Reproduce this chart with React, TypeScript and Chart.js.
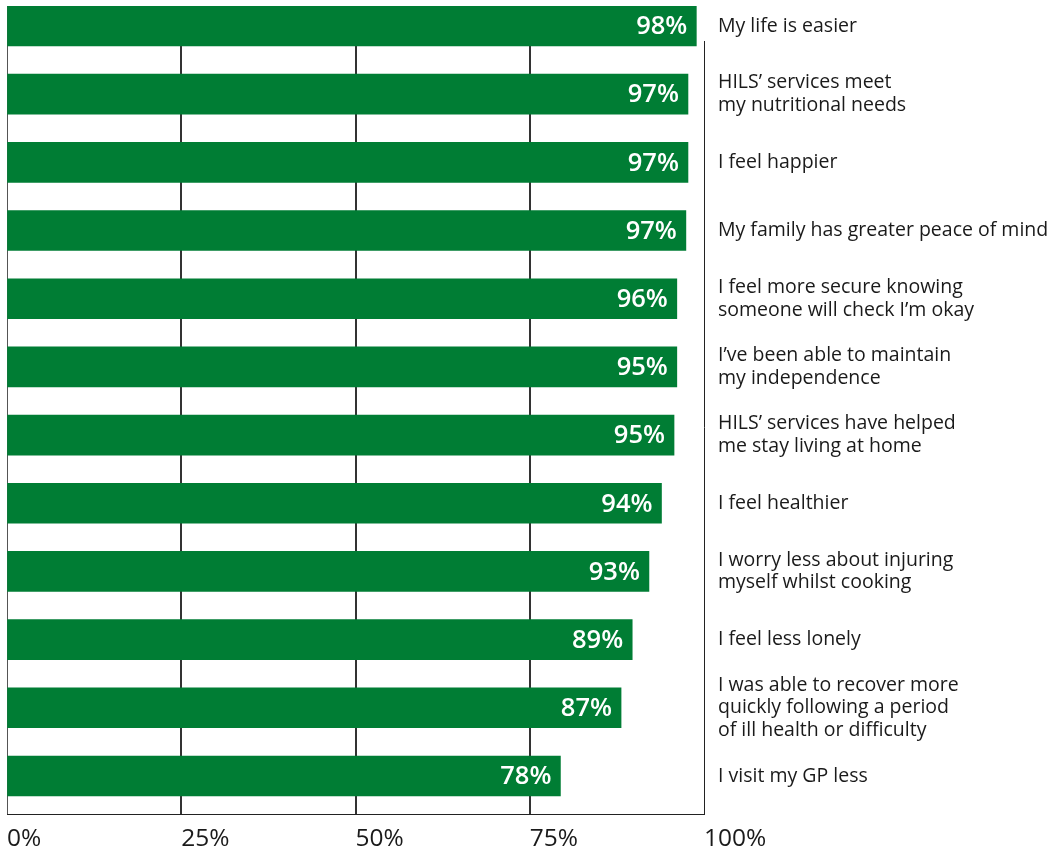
import React, { useEffect, useRef } from 'react';
import { Chart, registerables } from 'chart.js';

Chart.register(...registerables);

const categories: (string | string[])[] = [
  'My life is easier',
  ['HILS’ services meet', 'my nutritional needs'],
  'I feel happier',
  'My family has greater peace of mind',
  ['I feel more secure knowing', 'someone will check I’m okay'],
  ['I’ve been able to maintain', 'my independence'],
  ['HILS’ services have helped', 'me stay living at home'],
  'I feel healthier',
  ['I worry less about injuring', 'myself whilst cooking'],
  'I feel less lonely',
  ['I was able to recover more', 'quickly following a period', 'of ill health or difficulty'],
  'I visit my GP less',
];

// Percentages printed on the bars
const percentLabels = ['98%', '97%', '97%', '97%', '96%', '95%', '95%', '94%', '93%', '89%', '87%', '78%'];

// Bar lengths as drawn in the picture (percent of axis)
const barLengths = [98.9, 97.7, 97.7, 97.4, 96.1, 96.1, 95.7, 93.9, 92.1, 89.7, 88.1, 79.4];

const xTickValues = [0, 25, 50, 75, 100];

const GREEN = '#007d34';
const FONT = '"Open Sans", "Noto Sans", sans-serif';

const barLabelPlugin = {
  id: 'barLabels',
  afterDatasetsDraw(chart: any) {
    const { ctx } = chart;
    const meta = chart.getDatasetMeta(0);
    ctx.save();
    ctx.font = `600 25.5px ${FONT}`;
    ctx.fillStyle = '#ffffff';
    ctx.textAlign = 'right';
    ctx.textBaseline = 'middle';
    meta.data.forEach((bar: any, i: number) => {
      const { x, y } = bar.getProps(['x', 'y'], true);
      ctx.fillText(percentLabels[i], x - 9, y + 1);
    });
    ctx.restore();
  },
};

const rightFramePlugin = {
  id: 'rightFrame',
  beforeDatasetsDraw(chart: any) {
    const { ctx, chartArea, scales } = chart;
    const px = Math.round(scales.x.getPixelForValue(100)) + 0.5;
    ctx.save();
    ctx.strokeStyle = '#222222';
    ctx.lineWidth = 1;
    ctx.beginPath();
    ctx.moveTo(px, scales.y.getPixelForValue(0.22));
    ctx.lineTo(px, chartArea.bottom);
    ctx.stroke();
    ctx.restore();
  },
};

export default function App() {
  const canvasRef = useRef<HTMLCanvasElement | null>(null);

  useEffect(() => {
    if (!canvasRef.current) return;
    const chart = new Chart(canvasRef.current, {
      type: 'bar',
      data: {
        datasets: [
          {
            data: barLengths.map((v, i) => ({ x: v, y: i })),
            backgroundColor: GREEN,
            borderWidth: 0,
            barThickness: 40,
          },
        ],
      },
      options: {
        indexAxis: 'y',
        animation: false,
        responsive: true,
        maintainAspectRatio: false,
        events: [],
        layout: { padding: { left: 7, top: 6, right: 0, bottom: 0 } },
        plugins: {
          legend: { display: false },
          tooltip: { enabled: false },
          title: { display: false },
        },
        scales: {
          x: {
            type: 'linear',
            position: 'bottom',
            min: 0,
            max: 100,
            offset: false,
            afterBuildTicks(scale: any) {
              scale.ticks = xTickValues.map((v) => ({ value: v }));
            },
            afterFit(scale: any) {
              scale.height = 36;
              scale.paddingLeft = 0;
              scale.paddingRight = 0;
            },
            grid: {
              drawTicks: false,
              offset: false,
              color: (c: any) => (c.tick && c.tick.value === 100 ? 'rgba(0,0,0,0)' : c.tick && c.tick.value === 0 ? '#555555' : '#333333'),
              lineWidth: (c: any) => (c.tick && c.tick.value === 0 ? 1 : 2),
            },
            border: { display: true, color: '#222222', width: 1 },
            ticks: {
              align: 'start',
              padding: 10,
              autoSkip: false,
              maxRotation: 0,
              color: '#1a1a1a',
              font: { family: FONT, size: 24.5 },
              callback: (v: any) => `${v}%`,
            },
          },
          y: {
            type: 'linear',
            position: 'right',
            reverse: true,
            offset: false,
            min: -0.2933,
            max: 11.558,
            afterBuildTicks(scale: any) {
              scale.ticks = categories.map((_, i) => ({ value: i }));
            },
            afterFit(scale: any) {
              scale.width = 347;
              scale.paddingTop = 0;
              scale.paddingBottom = 0;
            },
            grid: { display: false, drawTicks: false, offset: false },
            border: { display: false },
            ticks: {
              padding: 14,
              autoSkip: false,
              color: '#1a1a1a',
              font: { family: FONT, size: 19.5, lineHeight: 1.17 },
              callback: (v: any) => categories[v as number],
            },
          },
        },
      },
      plugins: [barLabelPlugin, rightFramePlugin],
    } as any);
    return () => chart.destroy();
  }, []);

  return (
    <div style={{ position: 'absolute', left: 0, top: 0, width: 1051, height: 850 }}>
      <canvas ref={canvasRef} />
    </div>
  );
}
